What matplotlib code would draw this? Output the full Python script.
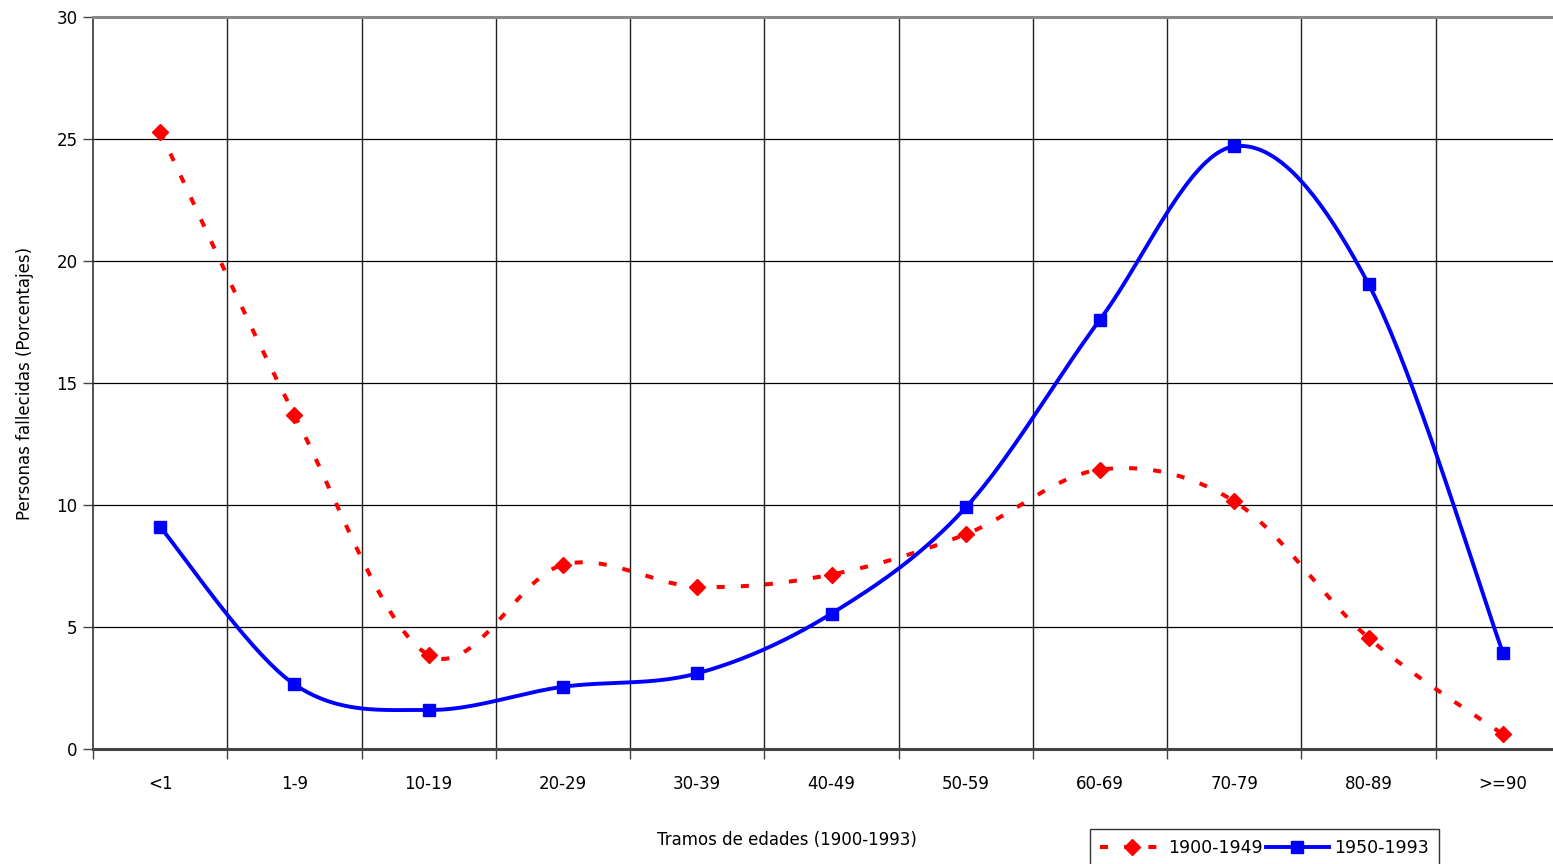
import numpy as np
import matplotlib
matplotlib.use("Agg")
import matplotlib.pyplot as plt
from matplotlib.lines import Line2D

categories = ["<1", "1-9", "10-19", "20-29", "30-39", "40-49", "50-59", "60-69", "70-79", "80-89", ">=90"]
serie_1900_1949 = [25.3, 13.7, 3.85, 7.55, 6.65, 7.15, 8.8, 11.45, 10.15, 4.55, 0.6]
serie_1950_1993 = [9.1, 2.65, 1.6, 2.55, 3.1, 5.55, 9.9, 17.6, 24.7, 19.05, 3.95]
yticks = [0, 5, 10, 15, 20, 25, 30]

plt.rcParams['font.family'] = ['DejaVu Sans']

def smooth(xs, ys, n=40):
    xs = np.asarray(xs, float); ys = np.asarray(ys, float)
    P = np.column_stack([xs, ys])
    out = []
    for i in range(len(P) - 1):
        p0 = P[i - 1] if i > 0 else P[i]
        p1 = P[i]; p2 = P[i + 1]
        p3 = P[i + 2] if i + 2 < len(P) else P[i + 1]
        c1 = p1 + (p2 - p0) / 6.0
        c2 = p2 - (p3 - p1) / 6.0
        t = np.linspace(0, 1, n)[:, None]
        seg = (1 - t) ** 3 * p1 + 3 * (1 - t) ** 2 * t * c1 + 3 * (1 - t) * t ** 2 * c2 + t ** 3 * p2
        out.append(seg if i == 0 else seg[1:])
    s = np.vstack(out)
    return s[:, 0], s[:, 1]

W, H = 1553, 864
fig = plt.figure(figsize=(W / 100, H / 100), dpi=100)
ax = fig.add_axes([93 / W, (H - 749) / H, 1477 / W, (749 - 17) / H])

x = np.arange(len(categories))
rx, ry = smooth(x, serie_1900_1949)
bx, by = smooth(x, serie_1950_1993)

red = '#ff0000'
blue = '#0000ff'
red_dash = (2.0, 4.0)
ax.plot(rx, ry, color=red, lw=2.9, dashes=red_dash, zorder=3, clip_on=False)
ax.plot(x, serie_1900_1949, linestyle='none', marker='D', color=red, markersize=8.5, zorder=4, clip_on=False)
ax.plot(bx, by, color=blue, lw=2.8, zorder=3, clip_on=False)
ax.plot(x, serie_1950_1993, linestyle='none', marker='s', color=blue, markersize=9, zorder=4, clip_on=False)

ax.set_xlim(-0.5, 10.5)
ax.set_ylim(0, 30)
ax.set_yticks(yticks)
ax.set_yticklabels([str(v) for v in yticks], fontsize=12)
ax.set_xticks(x)
ax.set_xticklabels(categories, fontsize=12)
ax.set_xticks(np.arange(-0.5, 11, 1), minor=True)
ax.tick_params(axis='x', which='major', length=0, pad=19)
ax.tick_params(axis='x', which='minor', length=7, width=1, color='#444444', direction='out')
ax.tick_params(axis='y', length=7, width=1, color='#444444', direction='out', pad=4)

for v in yticks[1:-1]:
    ax.axhline(v, color='black', lw=0.9, zorder=1)
for b in np.arange(0.5, 10.5, 1):
    ax.axvline(b, color='#222222', lw=1.0, zorder=1)

ax.spines['right'].set_visible(False)
ax.spines['top'].set_color('#888888')
ax.spines['top'].set_linewidth(2.2)
ax.spines['left'].set_color('#333333')
ax.spines['left'].set_linewidth(1.2)
ax.spines['bottom'].set_color('#444444')
ax.spines['bottom'].set_linewidth(2.2)

fig.text(25 / W, 1 - 383 / H, "Personas fallecidas (Porcentajes)", rotation=90, ha='center', va='center', fontsize=12)
fig.text(787 / W, 1 - 840 / H, "Tramos de edades (1900-1993)", ha='center', va='center', fontsize=12)

handles = [
    Line2D([], [], color=red, lw=2.9, dashes=red_dash, marker='D', markersize=8.5),
    Line2D([], [], color=blue, lw=2.8, marker='s', markersize=9),
]
leg = fig.legend(handles, ["1900-1949", "1950-1993"], ncol=2, fontsize=12.5,
                 loc='upper left', bbox_to_anchor=(1090 / W, 1 - 829 / H),
                 frameon=True, fancybox=False, edgecolor='black', handlelength=3.6,
                 columnspacing=0.2, handletextpad=0.3, borderpad=0.6, borderaxespad=0)
leg.get_frame().set_linewidth(1.0)

fig.savefig("out.png", dpi=100)
